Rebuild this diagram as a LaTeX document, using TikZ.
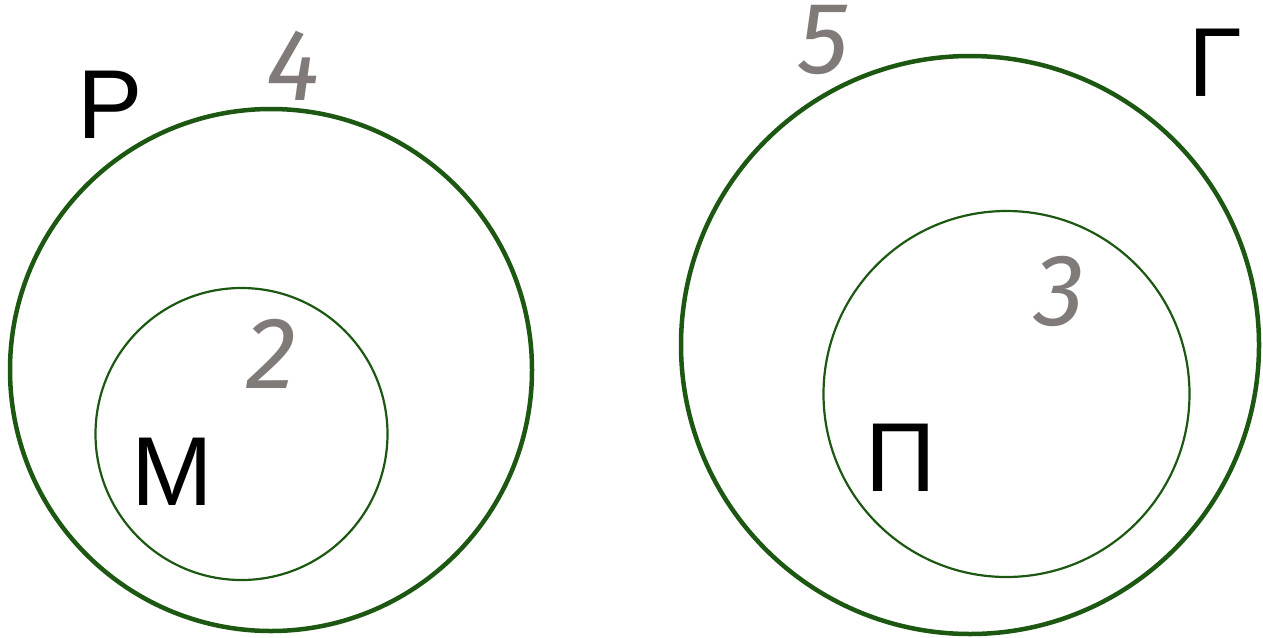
\documentclass[tikz,border=0pt]{standalone}
\usepackage{fontspec}
\setmainfont{Liberation Sans}
\newfontfamily\digitfont{Fira Sans}
\definecolor{ringgreen}{RGB}{28,88,18}
\definecolor{digitgray}{RGB}{128,123,120}
\begin{document}
\begin{tikzpicture}[x=1pt,y=-1pt,
  bigring/.style={circle,draw=ringgreen,line width=4.5pt,inner sep=0pt},
  smallring/.style={circle,draw=ringgreen,line width=2.2pt,inner sep=0pt},
  letter/.style={anchor=base,inner sep=0pt,text height=70pt,text depth=0pt,font=\fontsize{98}{98}\selectfont,text=black},
  digit/.style={anchor=base,inner sep=0pt,text height=68pt,text depth=0pt,font=\digitfont\itshape\fontsize{102}{102}\selectfont,text=digitgray}]
\useasboundingbox (0,0) rectangle (1263,637);
\node[bigring,minimum size=522pt] (R) at (271,370) {};
\node[smallring,minimum size=292pt] (M) at (241.5,434) {};
\node[bigring,minimum size=578pt] (G) at (970,345) {};
\node[smallring,minimum size=366pt] (P) at (1006.5,394) {};
\node[letter] (lR) at (110,138) {Р};
\node[letter] (lM) at (172.5,505) {М};
\node[letter] (lG) at (1215,96) {Г};
\node[letter] (lP) at (901,491) {П};
\node[digit] (d4) at (293,100) {4};
\node[digit] (d2) at (271,388) {2};
\node[digit] (d5) at (824,73) {5};
\node[digit] (d3) at (1060,325) {3};
\end{tikzpicture}
\end{document}
